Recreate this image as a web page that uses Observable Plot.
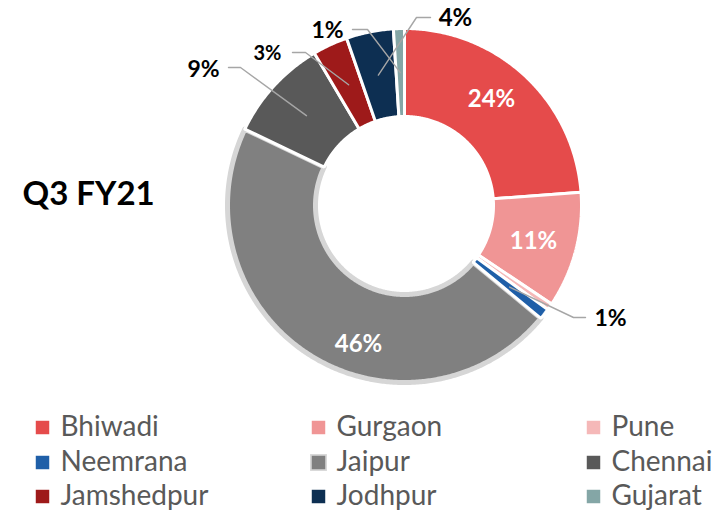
<!DOCTYPE html>
<html>
<head>
<meta charset="utf-8">
<script src="https://cdn.jsdelivr.net/npm/d3@7"></script>
<script src="https://cdn.jsdelivr.net/npm/@observablehq/plot@0.6"></script>
<style>
  html, body { margin: 0; padding: 0; background: #fff; }
  #chart svg { display: block; }
</style>
</head>
<body>
<div id="chart"></div>
<script>
// ---- data ----
const title = "Q3 FY21";
const names = ["Bhiwadi", "Gurgaon", "Pune", "Neemrana", "Jaipur", "Chennai", "Jamshedpur", "Jodhpur", "Gujarat"];
const shares = [23.8, 10.6, 0.6, 1.0, 46.1, 9.4, 3.2, 4.3, 1.0];
const colors = ["#E54B4B", "#F09595", "#F5B8B8", "#1F5FA8", "#808080", "#595959", "#9E1A1A", "#0D2F52", "#84A6A6"];

// ---- layout (positions only) ----
const W = 727, H = 513;
const CX = 404, CY = 205, RO = 177, RI = 89;
const insideLabelPos = { Bhiwadi: [491, 99], Gurgaon: [533, 241], Jaipur: [358, 344] };
const outsideLabelPos = {
  Chennai:    { label: [203, 69], size: 23, start: [228, 67], elbow: [240, 67] },
  Jamshedpur: { label: [267, 53], size: 20, start: [292, 52], elbow: [305, 52] },
  Gujarat:    { label: [327, 30], size: 23, start: [352, 29], elbow: [367, 29] },
  Jodhpur:    { label: [455, 18], size: 24, start: [430, 17], elbow: [416, 17] },
  Neemrana:   { label: [610, 318], size: 23, start: [585, 317], elbow: [573, 317] }
};
const legendCols = [35, 311, 586], legendRows = [427, 462, 496], legendTextGap = 25;

// ---- derived ----
const total = d3.sum(shares);
let acc = 0;
const slices = names.map((name, i) => {
  const a0 = acc / total * 2 * Math.PI; acc += shares[i];
  const a1 = acc / total * 2 * Math.PI;
  return { name, color: colors[i], value: shares[i], a0, a1, mid: (a0 + a1) / 2 };
});
const px = (r, a) => CX + r * Math.sin(a);
const py = (r, a) => CY - r * Math.cos(a);
function ring(s) {
  const n = Math.max(2, Math.ceil((s.a1 - s.a0) / (Math.PI / 360)));
  const pts = [];
  for (let k = 0; k <= n; k++) { const a = s.a0 + (s.a1 - s.a0) * k / n; pts.push({ x: px(RO, a), y: py(RO, a) }); }
  for (let k = n; k >= 0; k--) { const a = s.a0 + (s.a1 - s.a0) * k / n; pts.push({ x: px(RI, a), y: py(RI, a) }); }
  pts.push({ ...pts[0] });
  return pts.map(p => ({ ...p, name: s.name, color: s.color }));
}
const jaipurPts = ring(slices.find(s => s.name === "Jaipur"));
const otherPts = slices.filter(s => s.name !== "Jaipur").flatMap(ring);

const pct = v => Math.round(v) + "%";
const insideLabels = slices.filter(s => insideLabelPos[s.name]).map(s => ({ x: insideLabelPos[s.name][0], y: insideLabelPos[s.name][1], text: pct(s.value) }));
const outsideLabels = slices.filter(s => outsideLabelPos[s.name]).map(s => ({ x: outsideLabelPos[s.name].label[0], y: outsideLabelPos[s.name].label[1], size: outsideLabelPos[s.name].size, text: pct(s.value) }));
const leaderPts = slices.filter(s => outsideLabelPos[s.name]).flatMap(s => {
  const o = outsideLabelPos[s.name], rm = (RO + RI) / 2;
  return [
    { name: s.name, x: o.start[0], y: o.start[1] },
    { name: s.name, x: o.elbow[0], y: o.elbow[1] },
    { name: s.name, x: px(rm, s.mid), y: py(rm, s.mid) }
  ];
});
const legend = slices.map((s, i) => ({ name: s.name, color: s.color, x: legendCols[i % 3], y: legendRows[Math.floor(i / 3)] }));

const font = "Lato, 'Open Sans', sans-serif";

const chart = Plot.plot({
  width: W, height: H,
  margin: 0,
  x: { domain: [0, W], range: [0, W], axis: null },
  y: { domain: [0, H], range: [0, H], axis: null },
  color: { type: "identity" },
  style: { fontFamily: font, background: "white" },
  marks: [
    Plot.line(jaipurPts, { x: "x", y: "y", z: "name", fill: "color", stroke: "#D6D6D6", strokeWidth: 5, strokeLinejoin: "round" }),
    Plot.line(otherPts, { x: "x", y: "y", z: "name", fill: "color", stroke: "white", strokeWidth: 3, strokeLinejoin: "miter" }),
    Plot.line(leaderPts, { x: "x", y: "y", z: "name", stroke: "#A6A6A6", strokeWidth: 1.4 }),
    Plot.text(insideLabels, { x: "x", y: "y", text: "text", fill: "white", fontSize: 24, fontWeight: "bold", fontFamily: font }),
    ...outsideLabels.map(d => Plot.text([d], { x: "x", y: "y", text: "text", fill: "black", fontSize: d.size, fontWeight: "bold", fontFamily: font })),
    Plot.text([title], { x: () => 22, y: () => 194, text: d => d, textAnchor: "start", fill: "black", fontSize: 33, fontWeight: "bold", fontFamily: font }),
    Plot.dot(legend.filter(d => d.name === "Jaipur"), { x: d => d.x + 7, y: "y", symbol: "square", r: 9.5, fill: "#D6D6D6" }),
    Plot.dot(legend, { x: d => d.x + 7, y: "y", symbol: "square", r: 7.6, fill: "color" }),
    Plot.text(legend, { x: d => d.x + legendTextGap, y: "y", text: "name", textAnchor: "start", fill: "#595959", fontSize: 28, fontFamily: font })
  ]
});
document.getElementById("chart").appendChild(chart);
</script>
</body>
</html>
